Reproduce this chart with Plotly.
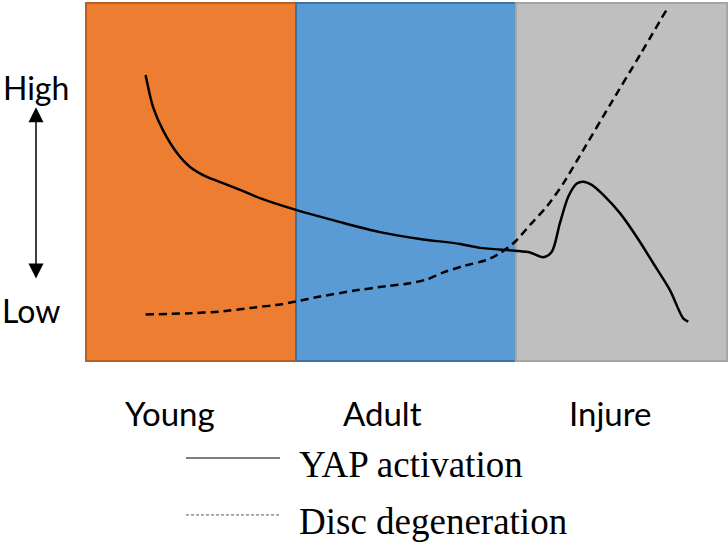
import plotly.graph_objects as go

# ---- data (x: life-stage axis, 0..3 ; y: relative level 0=bottom..1=top) ----
stage_names = ["Young", "Adult", "Injure"]
stage_edges = [0.0, 0.983, 2.012, 3.0]
stage_label_x = [0.393, 1.390, 2.452]

yap_x = [0.279, 0.314, 0.360, 0.426, 0.487, 0.566, 0.641, 0.721, 0.814, 0.983,
         1.189, 1.376, 1.563, 1.750, 1.844, 2.008, 2.078, 2.140, 2.180, 2.218,
         2.257, 2.297, 2.327, 2.367, 2.421, 2.499, 2.577, 2.655, 2.733, 2.795, 2.819]
yap_y = [0.799, 0.709, 0.645, 0.581, 0.542, 0.514, 0.497, 0.478, 0.455, 0.422,
         0.388, 0.360, 0.341, 0.327, 0.316, 0.308, 0.303, 0.290, 0.305, 0.385,
         0.459, 0.496, 0.501, 0.492, 0.464, 0.413, 0.347, 0.273, 0.198, 0.119, 0.110]

disc_x = [0.279, 0.471, 0.627, 0.782, 0.908, 0.981, 1.095, 1.250, 1.407, 1.516,
          1.595, 1.671, 1.764, 1.875, 1.938, 2.008, 2.078, 2.156, 2.234, 2.327,
          2.452, 2.593, 2.719]
disc_y = [0.130, 0.133, 0.138, 0.149, 0.158, 0.166, 0.180, 0.196, 0.209, 0.217,
          0.228, 0.247, 0.265, 0.282, 0.301, 0.333, 0.380, 0.431, 0.496, 0.589,
          0.715, 0.855, 0.983]

series_names = ["YAP activation", "Disc degeneration"]
level_labels = ["High", "Low"]

# ---- styling ----
fills = ["#ED7D31", "#5B9BD5", "#BFBFBF"]
borders = ["#B85F24", "#41719C", "#A5A5A5"]
label_font = "Lato, Calibri, Carlito, sans-serif"
legend_font = "Liberation Serif, Times New Roman, serif"

fig = go.Figure()

shapes = []
for i in range(3):
    shapes.append(dict(type="rect", xref="x", yref="y",
                       x0=stage_edges[i], x1=stage_edges[i + 1], y0=0, y1=1,
                       fillcolor=fills[i], line=dict(color=borders[i], width=2),
                       layer="below"))

fig.add_trace(go.Scatter(x=yap_x, y=yap_y, mode="lines", name=series_names[0],
                         line=dict(color="black", width=2.5, shape="spline", smoothing=0.8),
                         showlegend=False, hoverinfo="skip"))
fig.add_trace(go.Scatter(x=disc_x, y=disc_y, mode="lines", name=series_names[1],
                         line=dict(color="black", width=2.5, dash="8px,5px",
                                   shape="spline", smoothing=0.6),
                         showlegend=False, hoverinfo="skip"))

# legend samples (drawn manually)
leg_x0, leg_x1 = 0.468, 0.908
leg_y = [-0.271, -0.430]
shapes.append(dict(type="line", xref="x", yref="y", x0=leg_x0, x1=leg_x1,
                   y0=leg_y[0], y1=leg_y[0], line=dict(color="#7F7F7F", width=2)))
shapes.append(dict(type="line", xref="x", yref="y", x0=leg_x0, x1=leg_x1,
                   y0=leg_y[1], y1=leg_y[1], line=dict(color="#595959", width=1, dash="3px,2px")))

annotations = []
for name, xc in zip(stage_names, stage_label_x):
    annotations.append(dict(x=xc, y=-0.145, xref="x", yref="y", text=name, showarrow=False,
                            xanchor="center", yanchor="middle",
                            font=dict(family=label_font, size=33, color="black")))
annotations.append(dict(x=-0.236, y=0.765, xref="x", yref="y", text=level_labels[0],
                        showarrow=False, xanchor="center", yanchor="middle",
                        font=dict(family=label_font, size=32, color="black")))
annotations.append(dict(x=-0.257, y=0.142, xref="x", yref="y", text=level_labels[1],
                        showarrow=False, xanchor="center", yanchor="middle",
                        font=dict(family=label_font, size=32, color="black")))
# double-headed arrow
annotations.append(dict(x=-0.234, y=0.709, ax=-0.234, ay=0.226, xref="x", yref="y",
                        axref="x", ayref="y", text="", showarrow=True,
                        arrowhead=2, startarrowhead=2, arrowside="end+start",
                        arrowsize=2.0, startarrowsize=2.0, arrowwidth=1.5, arrowcolor="black"))
for name, yc in zip(series_names, [-0.2905, -0.4497]):
    annotations.append(dict(x=0.9875, y=yc, xref="x", yref="y", text=name, showarrow=False,
                            xanchor="left", yanchor="middle",
                            font=dict(family=legend_font, size=37, color="black")))

fig.update_layout(
    width=728, height=546,
    margin=dict(l=0, r=0, t=0, b=0),
    paper_bgcolor="white", plot_bgcolor="white",
    xaxis=dict(range=[-0.4025, 3.0047], visible=False, fixedrange=True),
    yaxis=dict(range=[-0.5168, 1.0084], visible=False, fixedrange=True),
    shapes=shapes, annotations=annotations, showlegend=False,
)

fig.write_html("out.html",
               config={"displayModeBar": False},
               post_script="document.body.style.margin='0';document.body.style.overflow='hidden';")
